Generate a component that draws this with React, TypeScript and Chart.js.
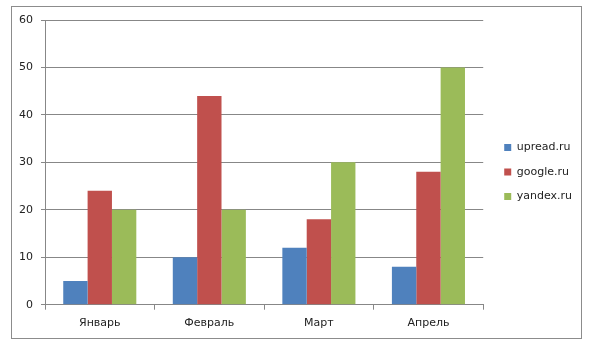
import React, { useEffect, useRef } from "react";
import { Chart, registerables } from "chart.js";

Chart.register(...registerables);

const categories = ["Январь", "Февраль", "Март", "Апрель"];
const seriesNames = ["upread.ru", "google.ru", "yandex.ru"];
const upread = [5, 10, 12, 8];
const google = [24, 44, 18, 28];
const yandex = [20, 20, 30, 50];
const colors = ["#4F81BD", "#C0504D", "#9BBB59"];
const yMin = 0;
const yMax = 60;
const yStep = 10;

const FONT = "'DejaVu Sans', Verdana, sans-serif";
const GRID = "#878787";

export default function App() {
  const ref = useRef<HTMLCanvasElement | null>(null);

  useEffect(() => {
    if (!ref.current) return;
    const values = [upread, google, yandex];
    const chart = new Chart(ref.current, {
      type: "bar",
      data: {
        labels: categories,
        datasets: seriesNames.map((name, i) => ({
          label: name,
          data: values[i],
          backgroundColor: colors[i],
          borderWidth: 0,
          categoryPercentage: 0.667,
          barPercentage: 1.0,
        })),
      },
      options: {
        responsive: false,
        animation: false,
        layout: { padding: { top: 20, bottom: 22, left: 10, right: 18 } },
        plugins: {
          tooltip: { enabled: false },
          legend: {
            position: "right",
            align: "start",
            title: {
              display: true,
              text: "",
              font: { family: FONT, size: 11, lineHeight: 1.2 },
              padding: { top: 95.3, bottom: 0 },
            },
            labels: {
              boxWidth: 7,
              boxHeight: 7,
              padding: 13.5,
              color: "#222",
              font: { family: FONT, size: 11 },
            },
          },
        },
        scales: {
          x: {
            grid: {
              display: true,
              drawOnChartArea: false,
              drawTicks: true,
              tickLength: 5,
              color: GRID,
              offset: true,
            },
            border: { display: true, color: GRID, width: 1 },
            ticks: { color: "#222", font: { family: FONT, size: 11 }, padding: 7 },
            afterFit: (s: any) => {
              s.height = 352 - 22 - 304.7;
            },
          },
          y: {
            min: yMin,
            max: yMax,
            ticks: { stepSize: yStep, color: "#222", font: { family: FONT, size: 11 }, padding: 8 },
            grid: { color: GRID, tickLength: 4, drawTicks: true },
            border: { display: true, color: GRID, width: 1 },
            afterFit: (s: any) => {
              s.width = 45 - 10;
            },
          },
          yR: {
            axis: "y",
            type: "linear",
            position: "right",
            display: true,
            grid: { display: false },
            border: { display: false },
            ticks: { display: false },
            afterFit: (s: any) => {
              s.width = 7.5;
            },
          },
        },
      },
    } as any);
    return () => chart.destroy();
  }, []);

  return (
    <div style={{ position: "fixed", left: 0, top: 0, width: 600, height: 352, background: "#fff" }}>
      <div
        style={{
          position: "absolute",
          left: 11,
          top: 6,
          width: 571,
          height: 333,
          boxSizing: "border-box",
          border: "1px solid #8c8c8c",
        }}
      />
      <canvas
        ref={ref}
        width={600}
        height={352}
        style={{ position: "absolute", left: 0, top: 0, display: "block" }}
      />
    </div>
  );
}
